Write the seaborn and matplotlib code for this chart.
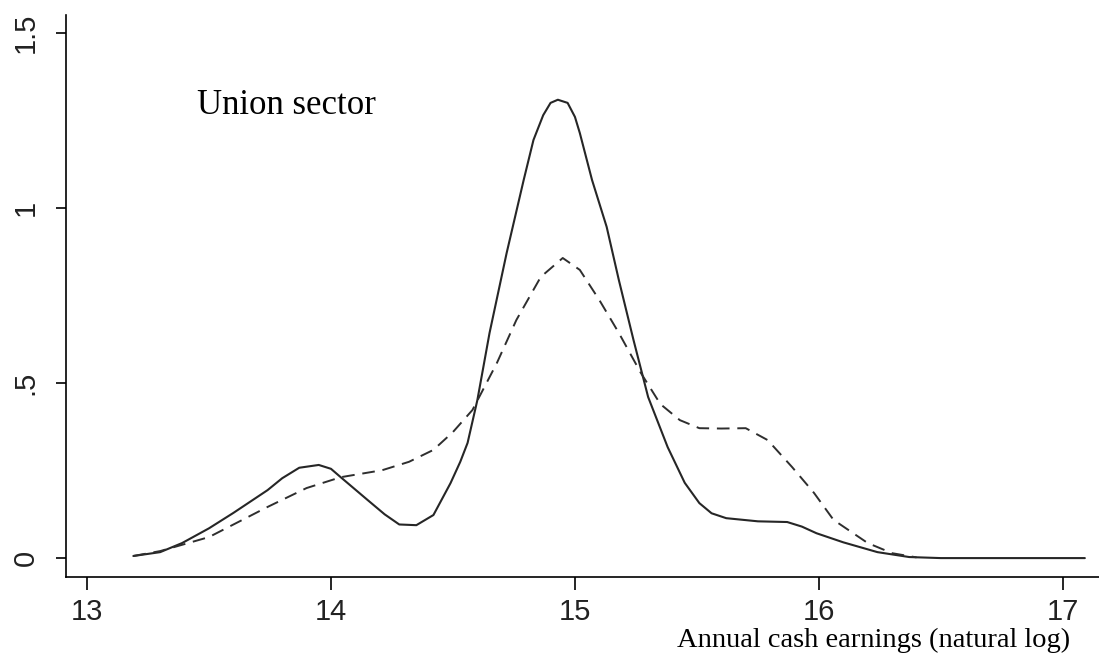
import matplotlib
matplotlib.use("Agg")
import matplotlib.pyplot as plt
import seaborn as sns
import pandas as pd

# Kernel density of log annual cash earnings, union sector
solid_x = [13.19, 13.30, 13.39, 13.50, 13.60, 13.74, 13.80, 13.87, 13.95, 14.00,
           14.04, 14.15, 14.22, 14.28, 14.35, 14.42, 14.49, 14.53, 14.56, 14.58,
           14.60, 14.65, 14.72, 14.79, 14.83, 14.87, 14.90, 14.93, 14.97, 15.00,
           15.02, 15.07, 15.13, 15.18, 15.24, 15.30, 15.38, 15.45, 15.51, 15.56,
           15.62, 15.75, 15.87, 15.93, 15.99, 16.10, 16.24, 16.37, 16.50, 17.09]
solid_y = [0.006, 0.017, 0.043, 0.085, 0.129, 0.194, 0.228, 0.258, 0.266, 0.255,
           0.231, 0.166, 0.125, 0.096, 0.094, 0.123, 0.214, 0.275, 0.329, 0.390,
           0.451, 0.643, 0.871, 1.080, 1.194, 1.265, 1.300, 1.309, 1.300, 1.260,
           1.214, 1.080, 0.946, 0.794, 0.623, 0.460, 0.317, 0.215, 0.157, 0.128,
           0.114, 0.105, 0.103, 0.090, 0.071, 0.045, 0.017, 0.003, 0.000, 0.000]

dashed_x = [13.19, 13.30, 13.50, 13.74, 13.90, 14.04, 14.21, 14.32, 14.42, 14.50,
            14.58, 14.68, 14.76, 14.86, 14.95, 15.02, 15.10, 15.18, 15.27, 15.35,
            15.43, 15.51, 15.60, 15.70, 15.79, 15.89, 15.98, 16.06, 16.20, 16.30,
            16.40]
dashed_y = [0.006, 0.020, 0.060, 0.146, 0.200, 0.231, 0.251, 0.275, 0.309, 0.360,
            0.423, 0.557, 0.680, 0.803, 0.857, 0.823, 0.737, 0.643, 0.529, 0.440,
            0.394, 0.371, 0.370, 0.371, 0.337, 0.260, 0.186, 0.109, 0.043, 0.014,
            0.002]

x_ticks = [13, 14, 15, 16, 17]
x_tick_labels = ["13", "14", "15", "16", "17"]
y_ticks = [0, 0.5, 1, 1.5]
y_tick_labels = ["0", ".5", "1", "1.5"]

sns.set_style("white")
plt.rcParams["font.family"] = ["Liberation Sans Narrow", "Liberation Sans", "DejaVu Sans"]

fig = plt.figure(figsize=(10.99, 6.64), dpi=100)
ax = fig.add_axes([66 / 1099, 87 / 664, 1 - 66 / 1099, (577 - 15) / 664])

solid_df = pd.DataFrame({"x": solid_x, "y": solid_y})
dashed_df = pd.DataFrame({"x": dashed_x, "y": dashed_y})

sns.lineplot(data=solid_df, x="x", y="y", ax=ax, color="#262626",
             linewidth=1.5, sort=False, estimator=None)
sns.lineplot(data=dashed_df, x="x", y="y", ax=ax, color="#2e2e2e",
             linewidth=1.4, sort=False, estimator=None, dashes=False)
ax.lines[-1].set_dashes([6.5, 4])

ax.set_xlim(12.914, 17.148)
ax.set_ylim(-0.054, 1.551)
ax.set_xticks(x_ticks)
ax.set_xticklabels(x_tick_labels)
ax.set_yticks(y_ticks)
ax.set_yticklabels(y_tick_labels, rotation=90, va="center")
ax.set_xlabel("")
ax.set_ylabel("")

for side in ("top", "right"):
    ax.spines[side].set_visible(False)
for side in ("left", "bottom"):
    ax.spines[side].set_color("black")
    ax.spines[side].set_linewidth(1.2)

ax.tick_params(axis="both", which="major", direction="out", width=1.2,
               color="black", labelsize=21, labelcolor="#222222",
               left=True, bottom=True)
ax.tick_params(axis="x", length=9.4, pad=6)
ax.tick_params(axis="y", length=7.5, pad=11.5)

ax.text(13.45, 1.269, "Union sector", family=["Liberation Serif"],
        fontsize=25, ha="left", va="baseline", color="black")
fig.text(1070 / 1099, 1 - 640 / 664, "Annual cash earnings (natural log)",
         family=["Liberation Serif"], fontsize=20.5, ha="right", va="center",
         color="black")

fig.savefig("out.png", dpi=100, facecolor="white")
